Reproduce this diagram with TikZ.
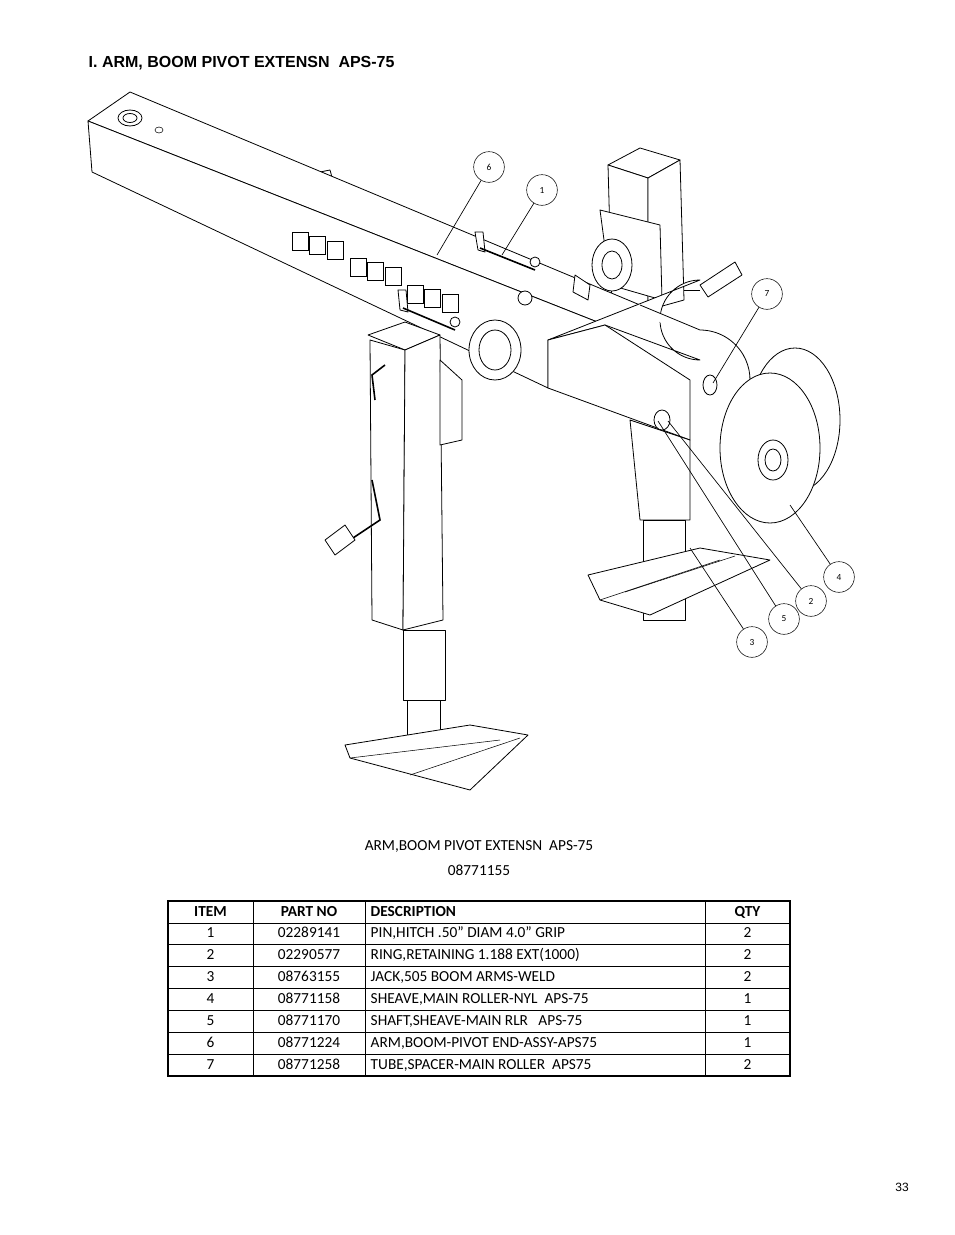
\documentclass[tikz,border=0pt]{standalone}
\usepackage{fontspec}
\setmainfont{Carlito}
\newfontfamily\titlefont{Liberation Sans}
\usetikzlibrary{positioning,calc}
\tikzset{
	part/.style={draw,line width=0.6pt,fill=white,line join=round},
	balloon/.style={draw,circle,minimum size=23pt,inner sep=0pt,font=\scriptsize,fill=white},
	leader/.style={draw,line width=0.5pt},
	cell/.style={font=\fontsize{11.5}{13}\selectfont,text height=8pt,text depth=2pt},
}
\begin{document}
\begin{tikzpicture}[x=0.75pt,y=-0.75pt]
	\useasboundingbox (0,0) rectangle (954,1235);
	\node[anchor=west,font=\titlefont\bfseries\fontsize{12}{14}\selectfont] (title) at (84,63) {I. ARM, BOOM PIVOT EXTENSN\ \ APS-75};

	% back jack
	\path[part] (608,165) -- (640,148) -- (680,160) -- (648,178) -- cycle;
	\path[part] (608,165) -- (648,178) -- (648,310) -- (612,310) -- cycle;
	\path[part] (648,178) -- (680,160) -- (684,300) -- (648,310) -- cycle;
	\path[part] (600,210) -- (660,225) -- (662,300) -- (610,285) -- cycle;
	\path[part] (700,285) -- (735,262) -- (742,275) -- (708,297) -- cycle;
	\draw[line width=0.6pt] (684,290) -- (700,290);
	\path[part] (305,175) -- (330,170) -- (335,188) -- (310,192) -- cycle;

	% beam
	\path[part] (88,121) -- (130,92) -- (640,305) -- (605,325) -- cycle;
	\path[part] (88,121) -- (605,325) -- (548,340) -- (548,388) -- (92,172) -- cycle;
	\draw[part] (130,118) ellipse (12 and 8);
	\draw[part] (130,118) ellipse (7 and 4.5);
	\draw (159,130) ellipse (4 and 3);
	\foreach \x/\y in {292/232,350/258,407/285} {
		\foreach \k in {0,1,2}
			\draw ($(\x,\y)+(\k*17.5,\k*4.5)$) rectangle ++(16,18);
	}
	\path[part] (575,275) -- (590,285) -- (588,300) -- (573,292) -- cycle;
	\draw[part] (525,298) circle (7);

	% spacer tubes
	\draw[part] (612,265) ellipse (20 and 26);
	\draw[part] (612,265) ellipse (10 and 14);
	\draw[part] (495,350) ellipse (26 and 30);
	\draw[part] (495,350) ellipse (16 and 20);

	% pins
	\draw[part] (475,232) -- (483,232) -- (485,252) -- (478,250) -- cycle;
	\draw[line width=1.2pt] (480,248) -- (535,270);
	\draw[part] (535,262) circle (5);
	\draw[part] (398,290) -- (406,290) -- (408,312) -- (400,310) -- cycle;
	\draw[line width=1.2pt] (403,308) -- (455,330);
	\draw[part] (455,322) circle (5);

	% end plate
	\path[part] (548,340) -- (605,325) -- (700,360)
		arc[start angle=-90,end angle=90,x radius=-40,y radius=-40] -- cycle;
	\path[part] (548,340) -- (548,388) -- (690,440) -- (690,380) -- (605,325) -- cycle;
	\draw[part] (640,305) -- (700,330) arc[start angle=-90,end angle=20,radius=50];
	\draw[part] (710,385) ellipse (7 and 10);
	\draw[part] (662,420) ellipse (8 and 10);

	% sheave
	\draw[part] (795,420) ellipse (45 and 72);
	\draw[part] (770,448) ellipse (50 and 75);
	\draw[part] (773,460) ellipse (15 and 20);
	\draw[part] (773,460) ellipse (8 and 11);

	% right jack
	\path[part] (630,420) -- (690,440) -- (690,520) -- (640,520) -- cycle;
	\path[part] (643,520) rectangle (685,620);
	\path[part] (588,575) -- (700,548) -- (770,560) -- (650,615) -- (600,600) -- cycle;
	\draw (600,600) -- (720,560);
	\draw (625,592) -- (735,556);

	% left jack
	\path[part] (368,335) -- (405,322) -- (440,335) -- (405,350) -- cycle;
	\path[part] (370,340) -- (405,350) -- (403,630) -- (372,620) -- cycle;
	\path[part] (405,350) -- (440,335) -- (443,620) -- (403,630) -- cycle;
	\path[part] (403,630) rectangle (445,700);
	\path[part] (407,700) rectangle (440,760);
	\path[part] (440,360) -- (462,380) -- (462,440) -- (440,445) -- cycle;
	\draw[line width=1.2pt] (375,400) -- (372,375) -- (385,365);
	\draw[line width=1.2pt] (372,480) -- (380,520) -- (350,540);
	\draw[part] (325,540) -- (345,525) -- (355,540) -- (335,555) -- cycle;
	\path[part] (345,745) -- (470,725) -- (528,735) -- (470,790) -- (350,758) -- cycle;
	\draw (350,758) -- (500,740);
	\draw (410,775) -- (520,738);

	% balloons and leaders
	\foreach \n/\bx/\by/\tx/\ty in {6/489/167/437/255, 1/542/190/502/255, 7/767/294/713/383,
		4/839/577/790/505, 2/811/601/668/421, 5/784/619/658/421, 3/752/642/690/548} {
		\node[balloon] (b\n) at (\bx,\by) {\n};
		\coordinate (p\n) at (\tx,\ty);
		\draw[leader] (b\n) -- (p\n);
	}

	% caption
	\node[cell] (cap) at (479,846) {ARM,BOOM PIVOT EXTENSN\ \ APS-75};
	\node[cell,below=2pt of cap] (num) {08771155};

	% table
	\draw[line width=0.8pt] (168,901) rectangle (790,1076);
	\foreach \r in {1,...,7} \draw (168,901+\r*21.875) -- (790,901+\r*21.875);
	\foreach \x in {253,365,705} \draw (\x,901) -- (\x,1076);
	\foreach \i/\a/\b/\c [count=\r from 0] in {
		\textbf{ITEM}/\textbf{PART NO}/\textbf{DESCRIPTION}/\textbf{QTY},
		1/02289141/{PIN,HITCH .50" DIAM 4.0" GRIP}/2,
		2/02290577/{RING,RETAINING 1.188 EXT(1000)}/2,
		3/08763155/{JACK,505 BOOM ARMS-WELD}/2,
		4/08771158/{SHEAVE,MAIN ROLLER-NYL\ \ APS-75}/1,
		5/08771170/{SHAFT,SHEAVE-MAIN RLR\ \ \ APS-75}/1,
		6/08771224/{ARM,BOOM-PIVOT END-ASSY-APS75}/1,
		7/08771258/{TUBE,SPACER-MAIN ROLLER\ \ APS75}/2} {
		\node[cell] (i\r) at (210.5,912+\r*21.875) {\i};
		\node[cell] (n\r) at (309,912+\r*21.875) {\a};
		\node[cell,anchor=west] (d\r) at (366,912+\r*21.875) {\b};
		\node[cell] (q\r) at (747.5,912+\r*21.875) {\c};
	}

	\node[font=\titlefont\small] (page) at (902,1187) {33};
\end{tikzpicture}
\end{document}
